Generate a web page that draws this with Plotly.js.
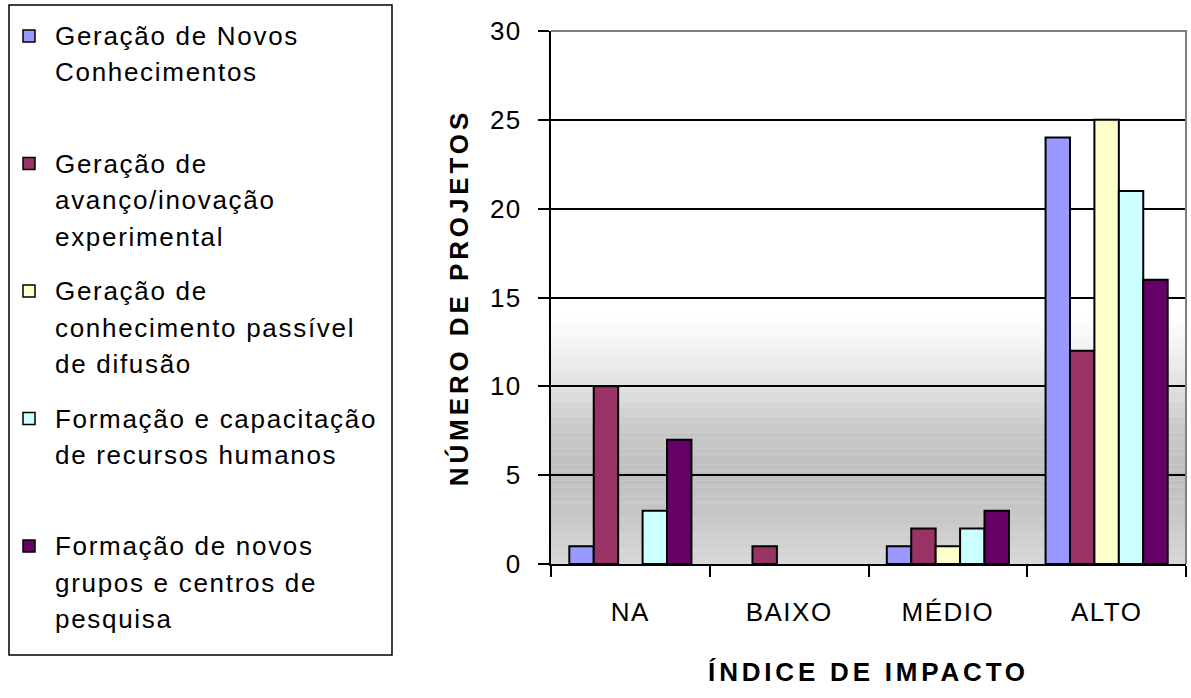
<!DOCTYPE html>
<html>
<head>
<meta charset="utf-8">
<script src="https://cdn.plot.ly/plotly-3.0.1.min.js"></script>
<style>
  html, body { margin: 0; padding: 0; background: #ffffff; }
  #chart { width: 1191px; height: 698px; }
  .xtick text, .ytick text { letter-spacing: 1.5px; }
</style>
</head>
<body>
<div id="chart"></div>
<script>
// Impact categories on the x axis
const categories = ['NA', 'BAIXO', 'MÉDIO', 'ALTO'];

// Number of projects per impact category, one array per indicator
const geracaoNovosConhecimentos = [1, 0, 1, 24];
const geracaoAvancoInovacao     = [10, 1, 2, 12];
const geracaoConhecimentoDifusao = [0, 0, 1, 25];
const formacaoRecursosHumanos   = [3, 0, 2, 21];
const formacaoNovosGrupos       = [7, 0, 3, 16];

// Indicator names and how they wrap in the legend box
const seriesNames = [
  'Geração de Novos Conhecimentos',
  'Geração de avanço/inovação experimental',
  'Geração de conhecimento passível de difusão',
  'Formação e capacitação de recursos humanos',
  'Formação de novos grupos e centros de pesquisa'
];
const legendLines = [
  ['Geração de Novos', 'Conhecimentos'],
  ['Geração de', 'avanço/inovação', 'experimental'],
  ['Geração de', 'conhecimento passível', 'de difusão'],
  ['Formação e capacitação', 'de recursos humanos'],
  ['Formação de novos', 'grupos e centros de', 'pesquisa']
];
const seriesColors = ['#9999FF', '#993366', '#FFFFCC', '#CCFFFF', '#660066'];

// Y axis
const yTicks = [0, 5, 10, 15, 20, 25, 30];
const xTitle = 'ÍNDICE DE IMPACTO';
const yTitle = 'NÚMERO DE PROJETOS';

const seriesValues = [
  geracaoNovosConhecimentos,
  geracaoAvancoInovacao,
  geracaoConhecimentoDifusao,
  formacaoRecursosHumanos,
  formacaoNovosGrupos
];

const W = 1191, H = 698;
const M = { l: 551, r: 5, t: 31, b: 134 };
const plotW = W - M.l - M.r;
const plotH = H - M.t - M.b;
// pixel -> paper coordinates (for the legend box drawn beside the plot)
const px = x => (x - M.l) / plotW;
const py = y => (H - M.b - y) / plotH;

// empty (zero) bars get no outline
const traces = seriesValues.map((vals, i) => ({
  type: 'bar',
  name: seriesNames[i],
  x: categories,
  y: vals,
  marker: {
    color: seriesColors[i],
    line: { color: '#000000', width: vals.map(v => (v === 0 ? 0 : 2)) }
  },
  hoverinfo: 'x+y+name'
}));

// Grey shading in the lower part of the plot area (darkest a little above the floor)
const shadeStops = [
  [0, 216], [2.5, 200], [5, 191], [7.5, 199], [10, 224], [12.5, 245], [14, 255]
];
function shadeAt(v) {
  for (let k = 1; k < shadeStops.length; k++) {
    const [v0, g0] = shadeStops[k - 1];
    const [v1, g1] = shadeStops[k];
    if (v <= v1) {
      const t = (v - v0) / (v1 - v0);
      return Math.round(g0 + (g1 - g0) * t);
    }
  }
  return 255;
}
const shapes = [];
const shadeSteps = 140, shadeTop = 14;
for (let s = 0; s < shadeSteps; s++) {
  const v0 = shadeTop * s / shadeSteps;
  const v1 = shadeTop * (s + 1) / shadeSteps;
  const g = shadeAt((v0 + v1) / 2);
  shapes.push({
    type: 'rect', layer: 'below', xref: 'paper', yref: 'y',
    x0: 0, x1: 1, y0: v0, y1: v1 + 0.02,
    fillcolor: `rgb(${g},${g},${g})`, line: { width: 0 }
  });
}
// grey frame on the top and right of the plot area
shapes.push({
  type: 'path', layer: 'above', xref: 'paper', yref: 'paper',
  path: `M 0 1 L 1 1 L 1 0`,
  line: { color: '#808080', width: 2 }
});

// Legend box
shapes.push({
  type: 'rect', xref: 'paper', yref: 'paper',
  x0: px(9), x1: px(392), y0: py(5), y1: py(655),
  line: { color: '#000000', width: 1.5 }, fillcolor: 'rgba(0,0,0,0)'
});

const annotations = [];
const itemTop = 36, itemStep = 127.5, lineStep = 36.5;
legendLines.forEach((lines, i) => {
  const y0 = itemTop + itemStep * i;
  shapes.push({
    type: 'rect', xref: 'paper', yref: 'paper',
    x0: px(23), x1: px(35), y0: py(y0 - 6), y1: py(y0 + 6),
    fillcolor: seriesColors[i], line: { color: '#000000', width: 1.5 }
  });
  lines.forEach((txt, j) => {
    annotations.push({
      xref: 'paper', yref: 'paper',
      x: px(53), y: py(y0 + lineStep * j),
      xanchor: 'left', yanchor: 'middle',
      text: `<span style="letter-spacing:1.7px">${txt}</span>`,
      showarrow: false,
      font: { family: 'Liberation Sans, Arial, sans-serif', size: 26, color: '#000000' }
    });
  });
});

const layout = {
  width: W, height: H,
  margin: M,
  paper_bgcolor: '#ffffff',
  plot_bgcolor: '#ffffff',
  showlegend: false,
  barmode: 'group',
  bargap: 0.2308,
  bargroupgap: 0,
  font: { family: 'Liberation Sans, Arial, sans-serif', color: '#000000' },
  xaxis: {
    type: 'category',
    categoryorder: 'array',
    categoryarray: categories,
    tickson: 'boundaries',
    ticks: 'outside', ticklen: 11, tickwidth: 2, tickcolor: '#000000',
    showline: true, linecolor: '#000000', linewidth: 2,
    showgrid: false, zeroline: false,
    tickfont: { size: 26, color: '#000000' },
    ticklabelstandoff: 24,
    title: {
      text: `<span style="letter-spacing:3.8px">${xTitle}</span>`,
      font: { size: 26, weight: 'bold', color: '#000000' },
      standoff: 37
    },
    automargin: false
  },
  yaxis: {
    range: [0, 30],
    tickvals: yTicks,
    ticks: 'outside', ticklen: 11, tickwidth: 2, tickcolor: '#000000',
    showline: true, linecolor: '#000000', linewidth: 2,
    showgrid: true, gridcolor: '#000000', gridwidth: 2,
    zeroline: false,
    tickfont: { size: 26, color: '#000000' },
    ticklabelstandoff: 11,
    title: {
      text: `<span style="letter-spacing:3.9px">${yTitle}</span>`,
      font: { size: 26, weight: 'bold', color: '#000000' },
      standoff: 14
    },
    automargin: false
  },
  shapes: shapes,
  annotations: annotations
};

Plotly.newPlot('chart', traces, layout, { displayModeBar: false, staticPlot: true });
</script>
</body>
</html>
